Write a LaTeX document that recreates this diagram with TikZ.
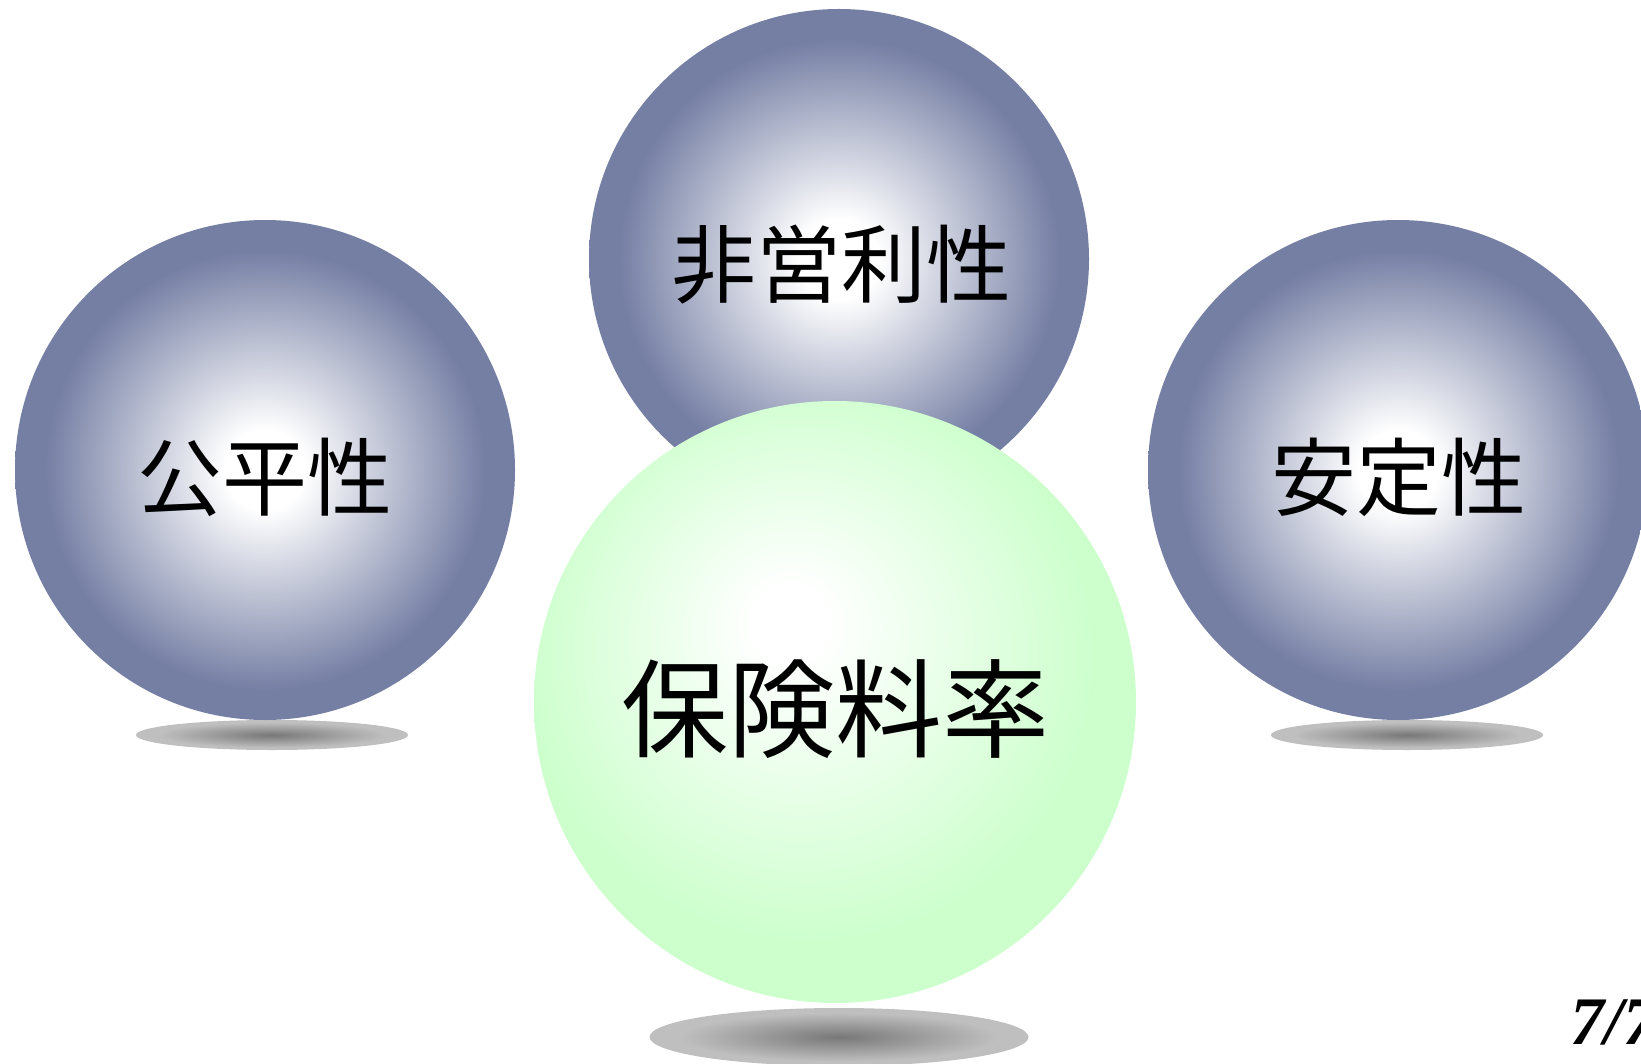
\documentclass[tikz,border=0pt]{standalone}
\usepackage{fontspec}
\usetikzlibrary{shapes.geometric}
\newfontfamily\jp{Noto Sans CJK JP}
\newfontfamily\tms{Liberation Serif}
\definecolor{ballblue}{RGB}{117,127,164}
\definecolor{ballgreen}{RGB}{204,255,204}
\pgfdeclareradialshading{blueballshade}{\pgfpoint{0bp}{0bp}}{color(0bp)=(white); color(4bp)=(white); color(22bp)=(ballblue); color(25bp)=(ballblue); color(50bp)=(ballblue)}
\pgfdeclareradialshading{greenballshade}{\pgfpoint{-4bp}{7bp}}{color(0bp)=(white); color(3bp)=(white); color(24bp)=(ballgreen); color(50bp)=(ballgreen)}
\pgfdeclareradialshading{shadowshade}{\pgfpoint{0bp}{0bp}}{color(0bp)=(black!53); color(21bp)=(black!25); color(25bp)=(black!25); color(50bp)=(black!25)}
\begin{document}
\begin{tikzpicture}[x=1pt,y=-1pt,
  blueball/.style={circle, minimum size=500pt, inner sep=0pt, shade, shading=blueballshade},
  greenball/.style={circle, minimum size=602pt, inner sep=0pt, shade, shading=greenballshade},
  shadowell/.style={ellipse, inner sep=0pt, shade, shading=shadowshade},
  lbl/.style={font=\jp\fontsize{85}{90}\selectfont, inner sep=0pt},
  biglbl/.style={font=\jp\fontsize{107}{110}\selectfont, inner sep=0pt},
  pagenum/.style={font=\tms\bfseries\itshape\fontsize{68}{72}\selectfont, inner sep=0pt, anchor=base west}]
\useasboundingbox (0,0) rectangle (1641,1064);
\clip (0,0) rectangle (1641,1064);
% shadows
\node[shadowell, minimum width=272pt, minimum height=30pt] (shl) at (272,735) {};
\node[shadowell, minimum width=272pt, minimum height=30pt] (shr) at (1407,735) {};
\node[shadowell, minimum width=379pt, minimum height=58pt] (shc) at (839,1037) {};
% blue balls
\node[blueball] (fair) at (265,470) {};
\node[blueball] (nonprofit) at (839,259) {};
\node[blueball] (stable) at (1398,470) {};
% green ball
\node[greenball] (rate) at (835,702) {};
% labels
\node[lbl] (fairt) at (265,477) {公平性};
\node[lbl] (nonprofitt) at (841,265) {非営利性};
\node[lbl] (stablet) at (1399,477) {安定性};
\node[biglbl] (ratet) at (835,709) {保険料率};
\node[pagenum] (page) at (1570,1044) {7/7};
\end{tikzpicture}
\end{document}
